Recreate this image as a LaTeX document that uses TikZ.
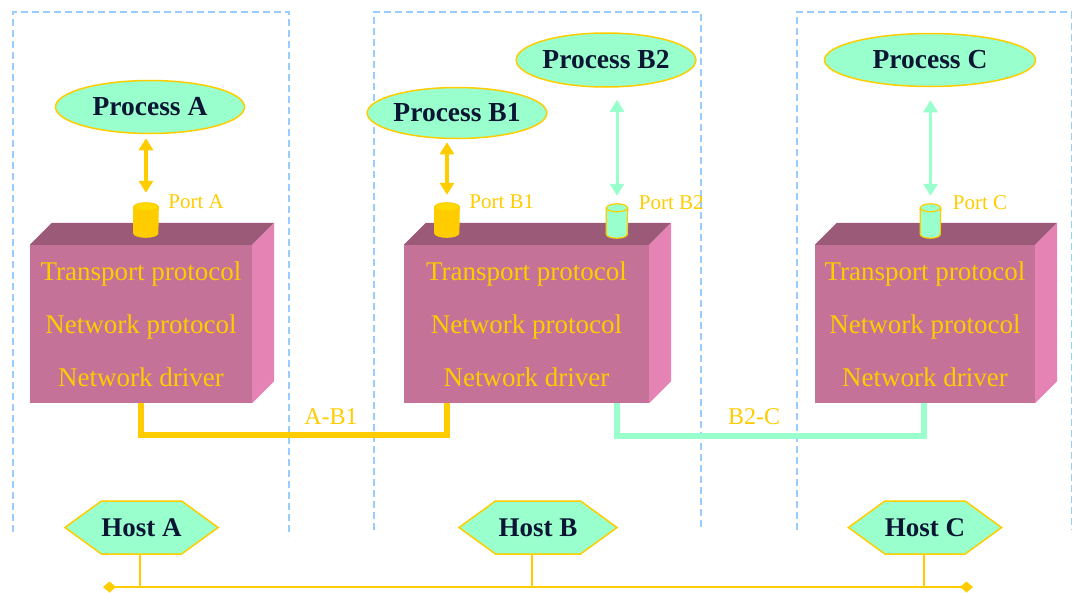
\documentclass[tikz,border=0pt]{standalone}
\usepackage{fontspec}
\setmainfont{Liberation Serif}
\usepackage{tikz}
\usetikzlibrary{arrows.meta, positioning, shapes.geometric, shapes.symbols}

\definecolor{mint}{HTML}{99FFCC}
\definecolor{gold}{HTML}{FFCC00}
\definecolor{ink}{HTML}{0A1633}
\definecolor{boxfront}{HTML}{C47297}
\definecolor{boxtop}{HTML}{9A5A78}
\definecolor{boxside}{HTML}{E683B5}
\definecolor{paneline}{HTML}{99CCFF}

\begin{document}
\begin{tikzpicture}[x=1pt, y=-1pt,
		panel/.style = {paneline, line width=1.5pt, dash pattern=on 7pt off 4pt},
		process/.style = {ellipse, draw=gold, line width=1.5pt, fill=mint, text=ink, inner sep=0pt,
			font=\fontsize{27.5}{30}\selectfont\bfseries},
		host/.style = {signal, signal to=west and east, signal pointer angle=72, draw=gold, line width=1.5pt,
			fill=mint, text=ink, inner sep=0pt, minimum height=53pt, font=\fontsize{27}{30}\selectfont\bfseries},
		stack/.style = {rectangle, fill=boxfront, text=gold, inner sep=0pt, align=center, minimum height=158pt,
			font=\fontsize{27}{53}\selectfont},
		port/.style = {rectangle, inner sep=0pt, minimum height=26pt},
		portlabel/.style = {gold, inner sep=0pt, font=\fontsize{21}{24}\selectfont},
		linklabel/.style = {gold, inner sep=0pt, font=\fontsize{24}{26}\selectfont},
		duplex/.style = {{Triangle[width=14pt, length=12pt]}-{Triangle[width=14pt, length=12pt]}},
		link/.style = {line width=5.5pt},
		bus/.style = {gold, line width=2.5pt, {Diamond[width=11pt, length=13pt]}-{Diamond[width=11pt, length=13pt]}}]
	\useasboundingbox (0,0) rectangle (1073,592);

	% Host panels (open at the bottom)
	\draw [panel] (13,532) -- (13,12) -- (289,12) -- (289,536);
	\draw [panel] (374,530) -- (374,12) -- (701,12) -- (701,530);
	\draw [panel] (797,530) -- (797,12) -- (1071.5,12) -- (1071.5,530);

	% Protocol stacks: front face is the node, top and side faces are filled after it
	\node (boxA) [stack, minimum width=222pt] at (141,324) {Transport protocol\\Network protocol\\Network driver};
	\node (boxB) [stack, minimum width=245pt] at (526.5,324) {Transport protocol\\Network protocol\\Network driver};
	\node (boxC) [stack, minimum width=220pt] at (925,324) {Transport protocol\\Network protocol\\Network driver};
	\foreach \b in {boxA, boxB, boxC} {
		\fill [boxtop] (\b.north west) -- ++(22,-22) -- ([shift={(22,-22)}]\b.north east) -- (\b.north east) -- cycle;
		\fill [boxside] (\b.north east) -- ++(22,-22) -- ([shift={(22,-22)}]\b.south east) -- (\b.south east) -- cycle;
	}

	% Ports on top of the stacks, drawn as small cylinders
	\node (portA) [port, minimum width=24pt] at (146,220) {};
	\node (portB1) [port, minimum width=24pt] at (447,220) {};
	\node (portB2) [port, minimum width=21pt] at (617,221) {};
	\node (portC) [port, minimum width=20pt] at (930.5,221) {};
	\foreach \p/\r/\c/\t in {portA/12pt/gold/gold!70!yellow, portB1/12pt/gold/gold!70!yellow,
			portB2/10.5pt/mint/mint, portC/10pt/mint/mint} {
		\filldraw [draw=gold, line width=1.2pt, fill=\c] (\p.north west) -- (\p.south west)
			arc [start angle=180, end angle=360, x radius=\r, y radius=4pt] -- (\p.north east) -- cycle;
		\filldraw [draw=gold, line width=1.2pt, fill=\t] (\p.north) ellipse [x radius=\r, y radius=4pt];
	}

	\node (labelA) [portlabel, anchor=west, right=10pt of portA.north east, yshift=5pt] {Port A};
	\node (labelB1) [portlabel, anchor=west, right=10pt of portB1.north east, yshift=5pt] {Port B1};
	\node (labelB2) [portlabel, anchor=west, right=11pt of portB2.north east, yshift=5pt] {Port B2};
	\node (labelC) [portlabel, anchor=west, right=12pt of portC.north east, yshift=5pt] {Port C};

	% Processes
	\node (procA) [process, minimum width=189pt, minimum height=53pt] at (150,107) {Process A};
	\node (procB1) [process, minimum width=169pt, minimum height=51pt] at (457,113) {Process B1};
	\node (procB2) [process, minimum width=169pt, minimum height=54pt] at (606,60) {Process B2};
	\node (procC) [process, minimum width=211pt, minimum height=53pt] at (930,60) {Process C};

	% Process <-> port
	\draw [duplex, gold, line width=4pt, shorten <=4pt, shorten >=14pt] (procA.south -| portA.north) -- (portA.north);
	\draw [duplex, gold, line width=4pt, shorten <=3pt, shorten >=12pt] (procB1.south -| portB1.north) -- (portB1.north);
	\draw [duplex, mint, line width=3pt, shorten <=12pt, shorten >=12pt] (procB2.south -| portB2.north) -- (portB2.north);
	\draw [duplex, mint, line width=3pt, shorten <=13pt, shorten >=12pt] (procC.south -| portC.north) -- (portC.north);

	% Connections between the drivers
	\draw [link, gold] (boxA.south) -- ++(0,32) -| (boxB.south -| portB1.south);
	\draw [link, mint] (boxB.south -| portB2.south) -- ++(0,33) -| ([xshift=-1pt]boxC.south);
	\node (connAB) [linklabel] at (331,417) {A-B1};
	\node (connBC) [linklabel] at (754,417) {B2-C};

	% Hosts on the bus
	\node (hostA) [host, minimum width=147pt] at (141.5,527.5) {Host A};
	\node (hostB) [host, minimum width=158pt] at (538,527.5) {Host B};
	\node (hostC) [host, minimum width=144pt] at (925,527.5) {Host C};

	\coordinate (busL) at (103,587);
	\coordinate (busR) at (973,587);
	\draw [bus] (busL) -- (busR);
	\draw [gold, line width=2.5pt] ([xshift=-1.5pt]hostA.south) -- ([xshift=-1.5pt]hostA.south |- busL);
	\draw [gold, line width=2.5pt] ([xshift=-6pt]hostB.south) -- ([xshift=-6pt]hostB.south |- busL);
	\draw [gold, line width=2.5pt] ([xshift=-1pt]hostC.south) -- ([xshift=-1pt]hostC.south |- busL);
\end{tikzpicture}
\end{document}
